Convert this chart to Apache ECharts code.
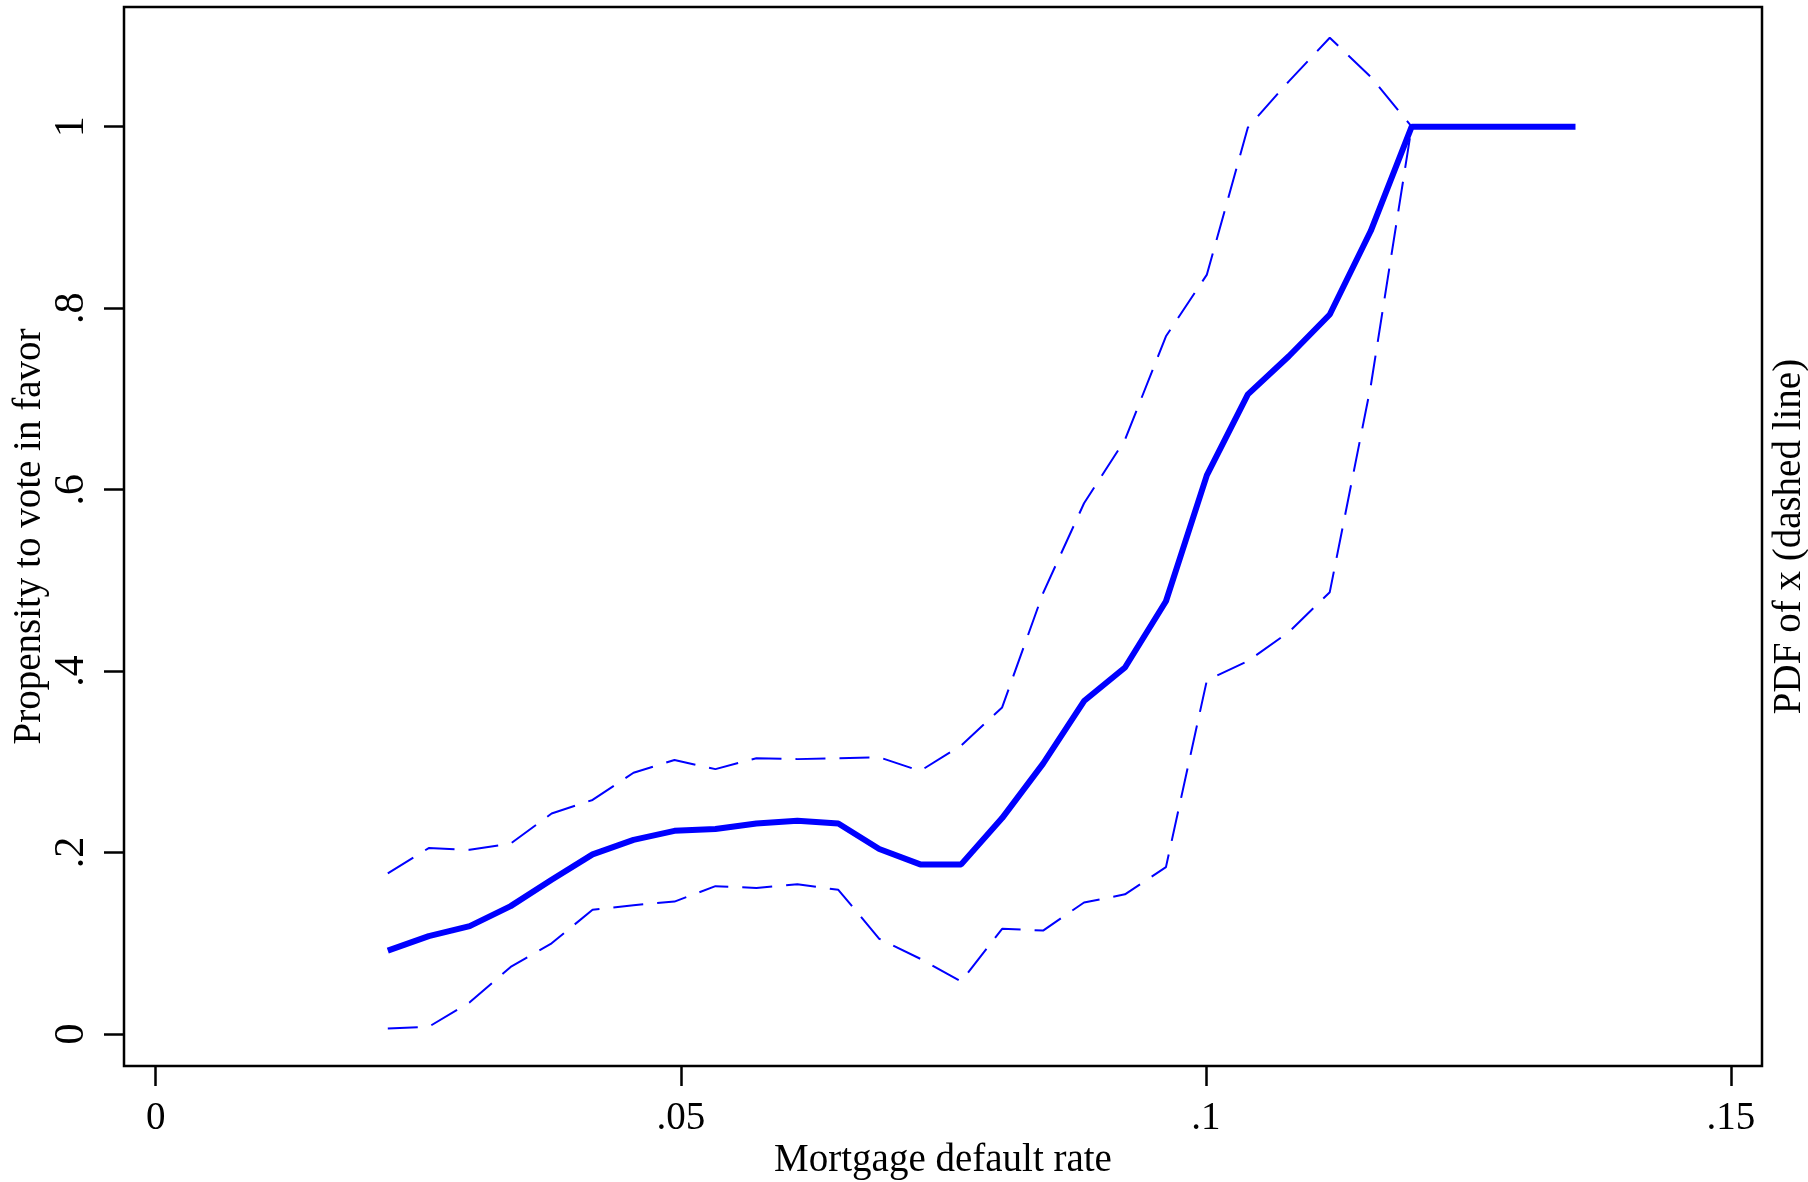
<!DOCTYPE html>
<html>
<head>
<meta charset="utf-8">
<title>Propensity to vote in favor by mortgage default rate</title>
<script src="https://cdn.jsdelivr.net/npm/echarts@6/dist/echarts.min.js"></script>
<style>
  html, body { margin: 0; padding: 0; background: #ffffff; }
  #chart { width: 1808px; height: 1182px; }
</style>
</head>
<body>
<div id="chart"></div>
<script>
// Mortgage default rate at each estimation point
const defaultRate = [
  0.0221, 0.0260, 0.0299, 0.0338, 0.0377, 0.0416, 0.0455, 0.0494, 0.0533, 0.0572,
  0.0611, 0.0650, 0.0689, 0.0728, 0.0767, 0.0806, 0.0845, 0.0884, 0.0923, 0.0962,
  0.1001, 0.1040, 0.1079, 0.1118, 0.1157, 0.1196, 0.1235, 0.1274, 0.1313, 0.1352
];

// Estimated propensity to vote in favor (solid line)
const propensity = [
  0.092, 0.108, 0.119, 0.141, 0.170, 0.198, 0.214, 0.224, 0.226, 0.232,
  0.235, 0.232, 0.204, 0.187, 0.187, 0.238, 0.298, 0.367, 0.404, 0.477,
  0.616, 0.705, 0.747, 0.793, 0.885, 1.000, 1.000, 1.000, 1.000, 1.000
];

// Upper and lower dashed bands (first 26 points)
const upperBand = [
  0.177, 0.205, 0.203, 0.210, 0.243, 0.258, 0.288, 0.302, 0.292, 0.304,
  0.303, 0.304, 0.305, 0.290, 0.318, 0.360, 0.486, 0.585, 0.655, 0.769,
  0.837, 0.999, 1.050, 1.098, 1.055, 1.000
];
const lowerBand = [
  0.006, 0.008, 0.035, 0.074, 0.100, 0.137, 0.142, 0.146, 0.163, 0.161,
  0.165, 0.159, 0.105, 0.083, 0.058, 0.116, 0.114, 0.145, 0.154, 0.184,
  0.390, 0.411, 0.443, 0.487, 0.714, 1.000
];

// Axis ticks and their printed labels
const xTickValues = [0, 0.05, 0.1, 0.15];
const xTickLabels = ['0', '.05', '.1', '.15'];
const yTickValues = [0, 0.2, 0.4, 0.6, 0.8, 1];
const yTickLabels = ['0', '.2', '.4', '.6', '.8', '1'];

const pairs = (ys) => ys.map((y, i) => [defaultRate[i], y]);
const labelFor = (values, labels) => (v) => {
  const i = values.findIndex((t) => Math.abs(t - v) < 1e-9);
  return i >= 0 ? labels[i] : '';
};

const SERIF = '"Liberation Serif", "Times New Roman", serif';
const BLUE = '#0000ff';

const chart = echarts.init(document.getElementById('chart'), null, { renderer: 'canvas' });

chart.setOption({
  animation: false,
  backgroundColor: '#ffffff',
  grid: {
    left: 124,
    top: 7,
    right: 46,
    bottom: 116,
    containLabel: false,
    outerBoundsMode: 'none',
    show: true,
    borderColor: '#000000',
    borderWidth: 2.5,
    backgroundColor: 'transparent'
  },
  xAxis: {
    type: 'value',
    min: -0.00302,
    max: 0.15296,
    name: 'Mortgage default rate',
    nameLocation: 'middle',
    nameGap: 95,
    nameMoveOverlap: false,
    nameTextStyle: { fontFamily: SERIF, fontSize: 39, color: '#000', verticalAlign: 'middle' },
    axisLine: { show: false, onZero: false },
    axisTick: {
      show: true,
      length: 20,
      customValues: xTickValues,
      lineStyle: { color: '#000', width: 2.5 }
    },
    axisLabel: {
      customValues: xTickValues,
      formatter: labelFor(xTickValues, xTickLabels),
      margin: 53,
      fontFamily: SERIF,
      fontSize: 39,
      color: '#000',
      verticalAlign: 'middle'
    },
    splitLine: { show: false }
  },
  yAxis: [
    {
      type: 'value',
      position: 'left',
      min: -0.0352,
      max: 1.1319,
      name: 'Propensity to vote in favor',
      nameLocation: 'middle',
      nameRotate: 90,
      nameGap: 94,
      nameMoveOverlap: false,
      nameTextStyle: { fontFamily: SERIF, fontSize: 39, color: '#000', verticalAlign: 'middle' },
      axisLine: { show: false, onZero: false },
      axisTick: {
        show: true,
        length: 20,
        customValues: yTickValues,
        lineStyle: { color: '#000', width: 2.5 }
      },
      axisLabel: {
        customValues: yTickValues,
        formatter: labelFor(yTickValues, yTickLabels),
        rotate: 90,
        margin: 52,
        fontFamily: SERIF,
        fontSize: 42,
        color: '#000',
        align: 'center',
        verticalAlign: 'middle'
      },
      splitLine: { show: false }
    },
    {
      type: 'value',
      position: 'right',
      min: -0.0352,
      max: 1.1319,
      name: 'PDF of x (dashed line)',
      nameLocation: 'middle',
      nameRotate: 90,
      nameGap: 28,
      nameMoveOverlap: false,
      nameTextStyle: { fontFamily: SERIF, fontSize: 39, color: '#000', verticalAlign: 'middle' },
      axisLine: { show: false },
      axisTick: { show: false },
      axisLabel: { show: false },
      splitLine: { show: false }
    }
  ],
  series: [
    {
      name: 'Upper band',
      type: 'line',
      data: pairs(upperBand),
      showSymbol: false,
      lineStyle: { color: BLUE, width: 2, type: [30, 14] },
      z: 2
    },
    {
      name: 'Lower band',
      type: 'line',
      data: pairs(lowerBand),
      showSymbol: false,
      lineStyle: { color: BLUE, width: 2, type: [30, 14] },
      z: 2
    },
    {
      name: 'Propensity',
      type: 'line',
      data: pairs(propensity),
      showSymbol: false,
      lineStyle: { color: BLUE, width: 6, type: 'solid' },
      z: 3
    }
  ]
});
</script>
</body>
</html>
